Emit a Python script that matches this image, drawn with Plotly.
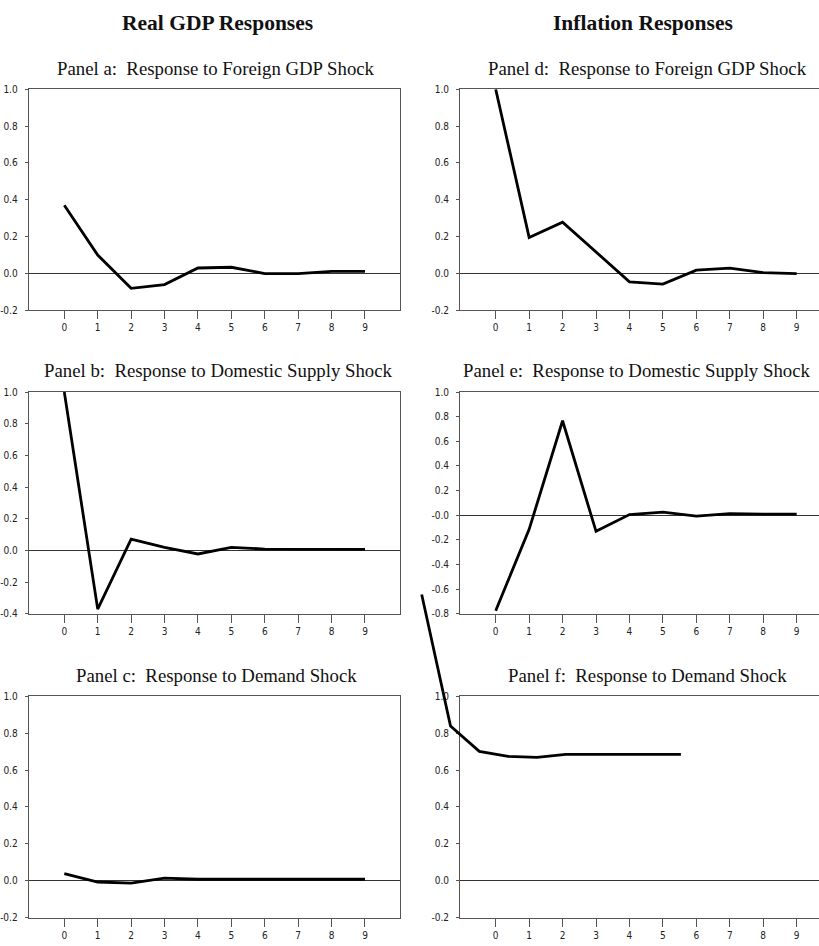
import plotly.graph_objects as go

# ---------------- data ----------------
horizon = list(range(10))
x_tick_labels = [str(h) for h in horizon]

gdp_foreign_shock = [0.37, 0.10, -0.08, -0.06, 0.03, 0.034, 0.0, 0.0, 0.012, 0.012]
gdp_supply_shock = [1.00, -0.37, 0.071, 0.02, -0.022, 0.02, 0.009, 0.009, 0.011, 0.007]
gdp_demand_shock = [0.039, -0.007, -0.013, 0.014, 0.008, 0.008, 0.008, 0.008, 0.008, 0.008]
infl_foreign_shock = [1.00, 0.196, 0.279, 0.118, -0.045, -0.057, 0.018, 0.029, 0.005, 0.0]
infl_supply_shock = [-0.774, -0.114, 0.767, -0.13, 0.006, 0.025, -0.007, 0.014, 0.009, 0.009]
infl_demand_shock = [1.553, 0.839, 0.702, 0.675, 0.669, 0.686, 0.686, 0.686, 0.686, 0.686]

y_ticks_std = [-0.2, 0.0, 0.2, 0.4, 0.6, 0.8, 1.0]
y_labels_std = ["-0.2", "0.0", "0.2", "0.4", "0.6", "0.8", "1.0"]
y_ticks_b = [-0.4, -0.2, 0.0, 0.2, 0.4, 0.6, 0.8, 1.0]
y_labels_b = ["-0.4", "-0.2", "0.0", "0.2", "0.4", "0.6", "0.8", "1.0"]
y_ticks_e = [-0.8, -0.6, -0.4, -0.2, 0.0, 0.2, 0.4, 0.6, 0.8, 1.0]
y_labels_e = ["-0.8", "-0.6", "-0.4", "-0.2", "-0.0", "0.2", "0.4", "0.6", "0.8", "1.0"]

column_titles = ["Real GDP Responses", "Inflation Responses"]
panel_titles = [
    "Panel a:  Response to Foreign GDP Shock",
    "Panel b:  Response to Domestic Supply Shock",
    "Panel c:  Response to Demand Shock",
    "Panel d:  Response to Foreign GDP Shock",
    "Panel e:  Response to Domestic Supply Shock",
    "Panel f:  Response to Demand Shock",
]

# ---------------- layout geometry (pixels) ----------------
W, H = 819, 946
def fx(p):
    return p / W
def fy(p):
    return 1 - p / H

left_col = (28.7, 400.3)
right_col = (460.0, 819.0)
rows = [(84.3, 308.3), (391.0, 615.7), (699.2, 923.3)]
left_xrange = [(28.7 - 64.3) / 33.41, (400.3 - 64.3) / 33.41]
right_xrange = [(460.0 - 495.7) / 33.44, (819.0 - 495.7) / 33.44]
title_cx = [216.0, 218.0, 216.0, 647.0, 637.0, 647.0]

panels = [
    # (series, col, row, yticks, ylabels, yrange)
    (gdp_foreign_shock, 0, 0, y_ticks_std, y_labels_std, [-0.2, 1.0]),
    (gdp_supply_shock, 0, 1, y_ticks_b, y_labels_b, [-0.4, 1.0]),
    (gdp_demand_shock, 0, 2, y_ticks_std, y_labels_std, [-0.2, 1.0]),
    (infl_foreign_shock, 1, 0, y_ticks_std, y_labels_std, [-0.2, 1.0]),
    (infl_supply_shock, 1, 1, y_ticks_e, y_labels_e, [-0.8, 1.0]),
    (None, 1, 2, y_ticks_std, y_labels_std, [-0.2, 1.0]),
]

tick_font = dict(family="Liberation Sans Narrow, Arial Narrow, DejaVu Sans Condensed", size=10, color="#222")
axis_col = "#555"

fig = go.Figure()
layout = dict(
    width=W, height=H, margin=dict(l=0, r=0, t=0, b=0),
    paper_bgcolor="white", plot_bgcolor="rgba(0,0,0,0)", showlegend=False,
)
annotations = []

for i, (series, col, row, yt, yl, yr) in enumerate(panels):
    n = i + 1
    xa = "xaxis" if n == 1 else f"xaxis{n}"
    ya = "yaxis" if n == 1 else f"yaxis{n}"
    xref = "x" if n == 1 else f"x{n}"
    yref = "y" if n == 1 else f"y{n}"
    cx = left_col if col == 0 else right_col
    ry = rows[row]
    layout[xa] = dict(
        domain=[fx(cx[0]), fx(cx[1])], anchor=yref,
        range=left_xrange if col == 0 else right_xrange,
        tickvals=horizon, ticktext=x_tick_labels, tickfont=tick_font,
        ticks="outside", ticklen=8, tickcolor=axis_col, tickwidth=1,
        showline=True, linecolor=axis_col, linewidth=1, mirror=True,
        showgrid=False, zeroline=False, fixedrange=True,
    )
    layout[ya] = dict(
        domain=[fy(ry[1]), fy(ry[0])], anchor=xref, range=yr,
        tickvals=yt, ticktext=yl, tickfont=tick_font,
        ticks="outside", ticklen=3, tickcolor=axis_col, tickwidth=1,
        ticklabelstandoff=5,
        showline=True, linecolor=axis_col, linewidth=1, mirror=(col == 0),
        showgrid=False, zeroline=True, zerolinecolor="#333", zerolinewidth=1,
        fixedrange=True,
    )
    if series is not None:
        fig.add_trace(go.Scatter(x=horizon, y=series, mode="lines", xaxis=xref, yaxis=yref,
                                 line=dict(color="black", width=2.8), hoverinfo="skip"))
    else:
        # empty trace so the panel frame is created
        fig.add_trace(go.Scatter(x=[], y=[], mode="lines", xaxis=xref, yaxis=yref,
                                 hoverinfo="skip"))
    annotations.append(dict(
        text=panel_titles[i], xref="paper", yref="paper",
        x=fx(title_cx[i]), y=fy(ry[0] - 21.5),
        xanchor="center", yanchor="middle", showarrow=False,
        font=dict(family="Liberation Serif, Times New Roman, serif", size=18.8, color="#111"),
    ))

# Panel f line as drawn in the original: on its own (offset) scale, overflowing the frame
ov_dom_x = (400.0, 819.0)
ov_dom_y = (585.0, 923.3)
f_x0, f_dx = 421.7, 28.8
f_y1, f_pu = 699.3, 186.67
layout["xaxis7"] = dict(domain=[fx(ov_dom_x[0]), fx(ov_dom_x[1])], anchor="y7",
                        range=[(ov_dom_x[0] - f_x0) / f_dx, (ov_dom_x[1] - f_x0) / f_dx],
                        visible=False, fixedrange=True)
layout["yaxis7"] = dict(domain=[fy(ov_dom_y[1]), fy(ov_dom_y[0])], anchor="x7",
                        range=[1.0 - (ov_dom_y[1] - f_y1) / f_pu, 1.0 + (f_y1 - ov_dom_y[0]) / f_pu],
                        visible=False, fixedrange=True)
fig.add_trace(go.Scatter(x=horizon, y=infl_demand_shock, mode="lines", xaxis="x7", yaxis="y7",
                         line=dict(color="black", width=2.8), hoverinfo="skip"))

# column titles
for txt, cxp in zip(column_titles, [217.5, 642.5]):
    annotations.append(dict(
        text=f"<b>{txt}</b>", xref="paper", yref="paper", x=fx(cxp), y=fy(17.5),
        xanchor="center", yanchor="middle", showarrow=False,
        font=dict(family="Liberation Serif, Times New Roman, serif", size=21.5, color="#111"),
    ))

layout["annotations"] = annotations
fig.update_layout(**layout)

fig.write_html("out.html", post_script="document.body.style.margin='0px';",
               config={"displayModeBar": False})
